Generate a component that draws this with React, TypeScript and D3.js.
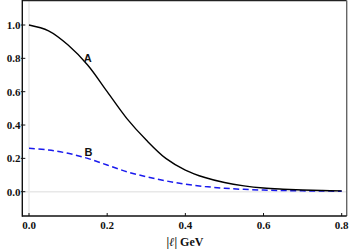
import React, { useRef, useEffect } from 'react';
import * as d3 from 'd3';

// momentum |l| in GeV
const momenta = [0, 0.05, 0.1, 0.15, 0.2, 0.25, 0.3, 0.35, 0.4, 0.45, 0.5, 0.55, 0.6, 0.65, 0.7, 0.75, 0.8];
const seriesA = [1.0, 0.965, 0.88, 0.76, 0.6, 0.44, 0.31, 0.2, 0.13, 0.085, 0.055, 0.035, 0.022, 0.015, 0.01, 0.007, 0.005];
const seriesB = [0.26, 0.25, 0.23, 0.2, 0.16, 0.12, 0.09, 0.065, 0.045, 0.031, 0.021, 0.014, 0.01, 0.007, 0.005, 0.004, 0.003];
const xTicks = [0, 0.2, 0.4, 0.6, 0.8];
const yTicks = [0, 0.2, 0.4, 0.6, 0.8, 1.0];

const width = 349;
const height = 250;

const App: React.FC = () => {
  const svgRef = useRef<SVGSVGElement>(null);

  useEffect(() => {
    if (!svgRef.current) return;
    const svg = d3.select(svgRef.current);
    svg.selectAll('*').remove();

    // frame edges
    const frame = { left: 22.3, right: 346.7, top: 0.6, bottom: 216 };

    const x = d3.scaleLinear().domain([0, 0.8]).range([29, 341.7]);
    const y = d3.scaleLinear().domain([0, 1]).range([191.7, 25]);

    const tickFont = '"Liberation Serif", "Times New Roman", serif';

    // grid lines at zero
    svg.append('line')
      .attr('x1', x(0)).attr('x2', x(0))
      .attr('y1', frame.top).attr('y2', frame.bottom)
      .attr('stroke', '#e8e8e8').attr('stroke-width', 1.5);
    svg.append('line')
      .attr('x1', frame.left).attr('x2', frame.right)
      .attr('y1', y(0)).attr('y2', y(0))
      .attr('stroke', '#e8e8e8').attr('stroke-width', 1.5);

    // curves
    const line = d3.line<number>()
      .x((d, i) => x(momenta[i]))
      .y(d => y(d))
      .curve(d3.curveCatmullRom);

    svg.append('path')
      .datum(seriesB)
      .attr('d', line)
      .attr('fill', 'none')
      .attr('stroke', '#1a1aee')
      .attr('stroke-width', 1.5)
      .attr('stroke-dasharray', '6,3.5');

    svg.append('path')
      .datum(seriesA)
      .attr('d', line)
      .attr('fill', 'none')
      .attr('stroke', '#000')
      .attr('stroke-width', 1.4);

    // frame
    svg.append('line')
      .attr('x1', frame.left).attr('x2', frame.right)
      .attr('y1', frame.top).attr('y2', frame.top)
      .attr('stroke', '#222').attr('stroke-width', 1.2);
    svg.append('line')
      .attr('x1', frame.right).attr('x2', frame.right)
      .attr('y1', frame.top).attr('y2', frame.bottom)
      .attr('stroke', '#666').attr('stroke-width', 1.4);
    svg.append('line')
      .attr('x1', frame.left).attr('x2', frame.left)
      .attr('y1', 0).attr('y2', frame.bottom + 0.7)
      .attr('stroke', '#111').attr('stroke-width', 1.4);
    svg.append('line')
      .attr('x1', frame.left).attr('x2', frame.right)
      .attr('y1', frame.bottom).attr('y2', frame.bottom)
      .attr('stroke', '#111').attr('stroke-width', 1.4);

    // x ticks
    const xt = svg.append('g');
    xt.selectAll('line')
      .data(xTicks)
      .enter()
      .append('line')
      .attr('x1', d => x(d)).attr('x2', d => x(d))
      .attr('y1', frame.bottom).attr('y2', frame.bottom - 3)
      .attr('stroke', '#111').attr('stroke-width', 1);
    xt.selectAll('text')
      .data(xTicks)
      .enter()
      .append('text')
      .attr('x', d => x(d))
      .attr('y', 228.5)
      .attr('text-anchor', 'middle')
      .attr('font-family', tickFont)
      .attr('font-weight', 'bold')
      .attr('font-size', '11px')
      .attr('fill', '#111')
      .text(d => d.toFixed(1));

    // y ticks
    const yt = svg.append('g');
    yt.selectAll('line')
      .data(yTicks)
      .enter()
      .append('line')
      .attr('x1', frame.left - 1.5).attr('x2', frame.left + 3)
      .attr('y1', d => y(d)).attr('y2', d => y(d))
      .attr('stroke', '#111').attr('stroke-width', 1);
    yt.selectAll('text')
      .data(yTicks)
      .enter()
      .append('text')
      .attr('x', frame.left - 1.8)
      .attr('y', d => y(d))
      .attr('dy', '0.35em')
      .attr('text-anchor', 'end')
      .attr('font-family', tickFont)
      .attr('font-weight', 'bold')
      .attr('font-size', '11px')
      .attr('fill', '#111')
      .text(d => d.toFixed(1));

    // axis title
    const title = svg.append('text')
      .attr('x', 185)
      .attr('y', 245.5)
      .attr('text-anchor', 'middle')
      .attr('font-family', tickFont)
      .attr('font-weight', 'bold')
      .attr('font-size', '12px')
      .attr('fill', '#111');
    title.append('tspan').text('|');
    title.append('tspan').attr('font-style', 'italic').text('ℓ');
    title.append('tspan').text('| GeV');

    // curve labels
    const labelFont = '"Liberation Sans", Arial, sans-serif';
    svg.append('text')
      .attr('x', x(0.15)).attr('y', y(0.8))
      .attr('dy', '0.35em')
      .attr('text-anchor', 'middle')
      .attr('font-family', labelFont)
      .attr('font-weight', 'bold')
      .attr('font-size', '11px')
      .attr('fill', '#111')
      .text('A');
    svg.append('text')
      .attr('x', x(0.152)).attr('y', y(0.24))
      .attr('dy', '0.35em')
      .attr('text-anchor', 'middle')
      .attr('font-family', labelFont)
      .attr('font-weight', 'bold')
      .attr('font-size', '11px')
      .attr('fill', '#111')
      .text('B');
  }, []);

  return (
    <svg
      ref={svgRef}
      width={width}
      height={height}
      style={{ position: 'absolute', left: 0, top: 0, background: '#fff' }}
    />
  );
};

export default App;
